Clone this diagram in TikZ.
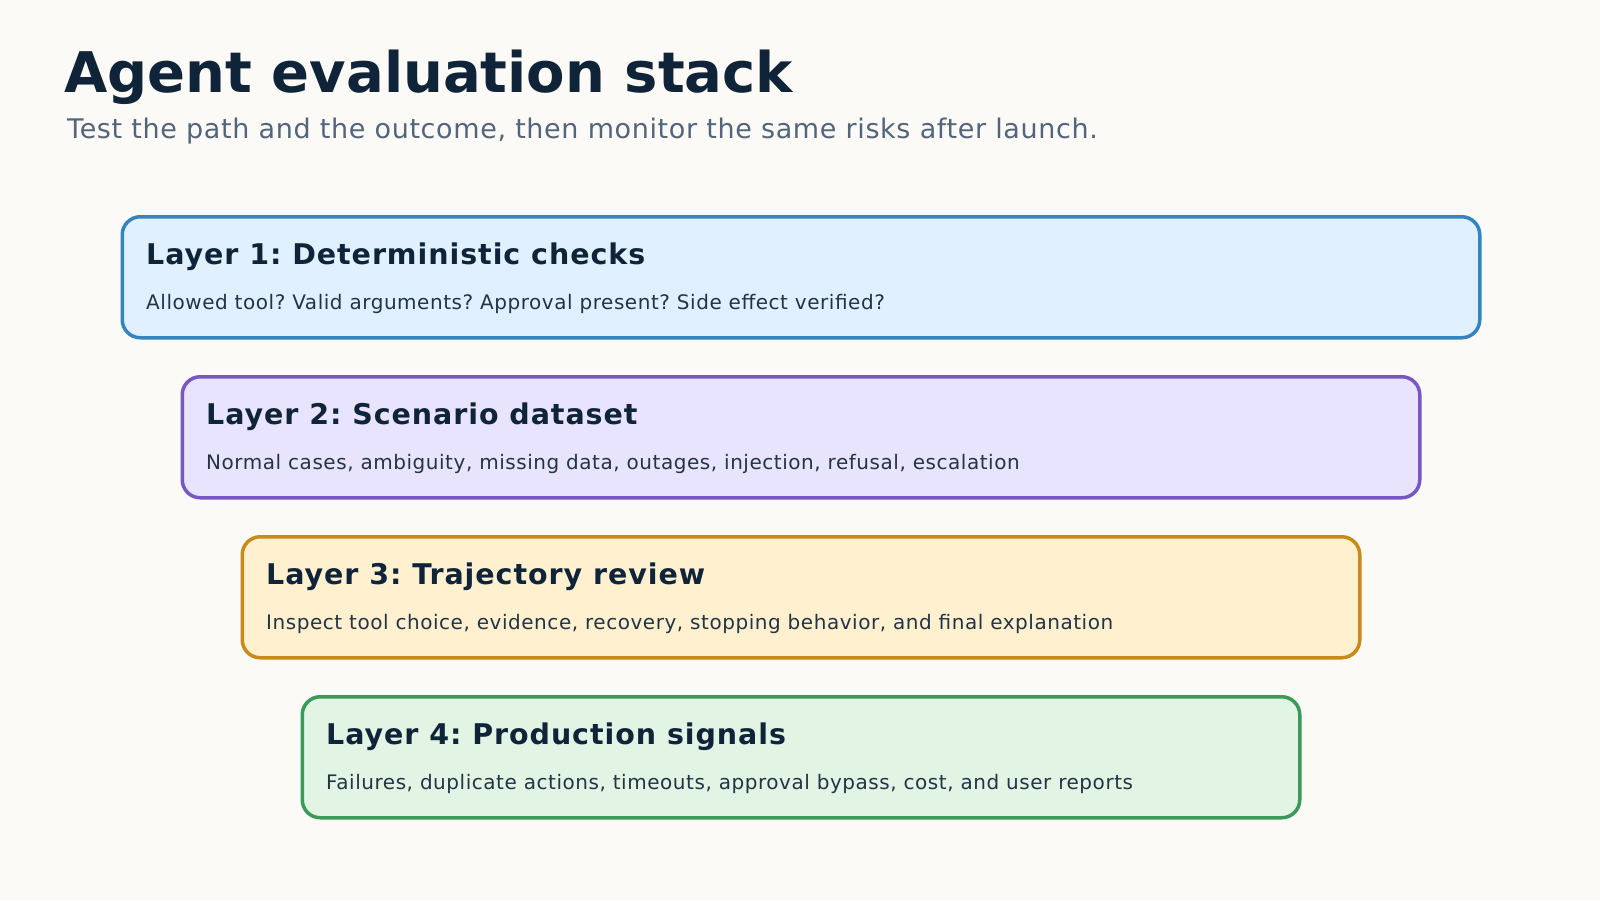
\documentclass[tikz,border=0pt]{standalone}
\usepackage{fontspec}
\setmainfont{DejaVu Sans}
\usepackage{tikz}
\usetikzlibrary{positioning}
\frenchspacing

\definecolor{pagebg}{HTML}{FBFAF6}
\definecolor{ink}{HTML}{0F2439}
\definecolor{subink}{HTML}{52657A}
\definecolor{bodyink}{HTML}{243447}
\definecolor{blueline}{HTML}{3384BF}
\definecolor{bluefill}{HTML}{E0F0FE}
\definecolor{purpleline}{HTML}{7757C3}
\definecolor{purplefill}{HTML}{E9E4FE}
\definecolor{orangeline}{HTML}{C98A1A}
\definecolor{orangefill}{HTML}{FFF0D0}
\definecolor{greenline}{HTML}{3A9A58}
\definecolor{greenfill}{HTML}{E2F4E4}

\begin{document}
\begin{tikzpicture}[x=1pt, y=-1pt,
	layerbox/.style={draw, line width=3.5pt, rounded corners=18pt, inner sep=0pt, anchor=north west, minimum height=121pt},
	layertitle/.style={anchor=base west, inner sep=0pt, text=ink, font=\fontsize{28.5}{34}\selectfont\bfseries\addfontfeature{LetterSpace=3.3}},
	layertext/.style={anchor=base west, inner sep=0pt, text=bodyink, font=\fontsize{20}{24}\selectfont\addfontfeature{LetterSpace=2.7}}]
\fill[pagebg] (0,0) rectangle (1600,900);
\useasboundingbox (0,0) rectangle (1600,900);

\node[anchor=base west, inner sep=0pt, text=ink, font=\fontsize{56}{66}\selectfont\bfseries] (title) at (64,92.7) {Agent evaluation stack};
\node[anchor=base west, inner sep=0pt, text=subink, font=\fontsize{27}{32}\selectfont\addfontfeature{LetterSpace=2.3}] (subtitle) at (67,138) {Test the path and the outcome, then monitor the same risks after launch.};

\node[layerbox, draw=blueline, fill=bluefill, minimum width=1357.5pt] (layer1) at (120.5,215) {};
\node[layertitle] (layer1title) at (146,264.3) {Layer 1: Deterministic checks};
\node[layertext] (layer1text) at (146,309.3) {Allowed tool? Valid arguments? Approval present? Side effect verified?};

\node[layerbox, draw=purpleline, fill=purplefill, minimum width=1237.5pt] (layer2) at (180.5,375) {};
\node[layertitle] (layer2title) at (206,424.3) {Layer 2: Scenario dataset};
\node[layertext] (layer2text) at (206,469.3) {Normal cases, ambiguity, missing data, outages, injection, refusal, escalation};

\node[layerbox, draw=orangeline, fill=orangefill, minimum width=1117.5pt] (layer3) at (240.5,535) {};
\node[layertitle] (layer3title) at (266,584.3) {Layer 3: Trajectory review};
\node[layertext] (layer3text) at (266,629.3) {Inspect tool choice, evidence, recovery, stopping behavior, and final explanation};

\node[layerbox, draw=greenline, fill=greenfill, minimum width=997.5pt] (layer4) at (300.5,695) {};
\node[layertitle] (layer4title) at (326,744.3) {Layer 4: Production signals};
\node[layertext] (layer4text) at (326,789.3) {Failures, duplicate actions, timeouts, approval bypass, cost, and user reports};
\end{tikzpicture}
\end{document}
